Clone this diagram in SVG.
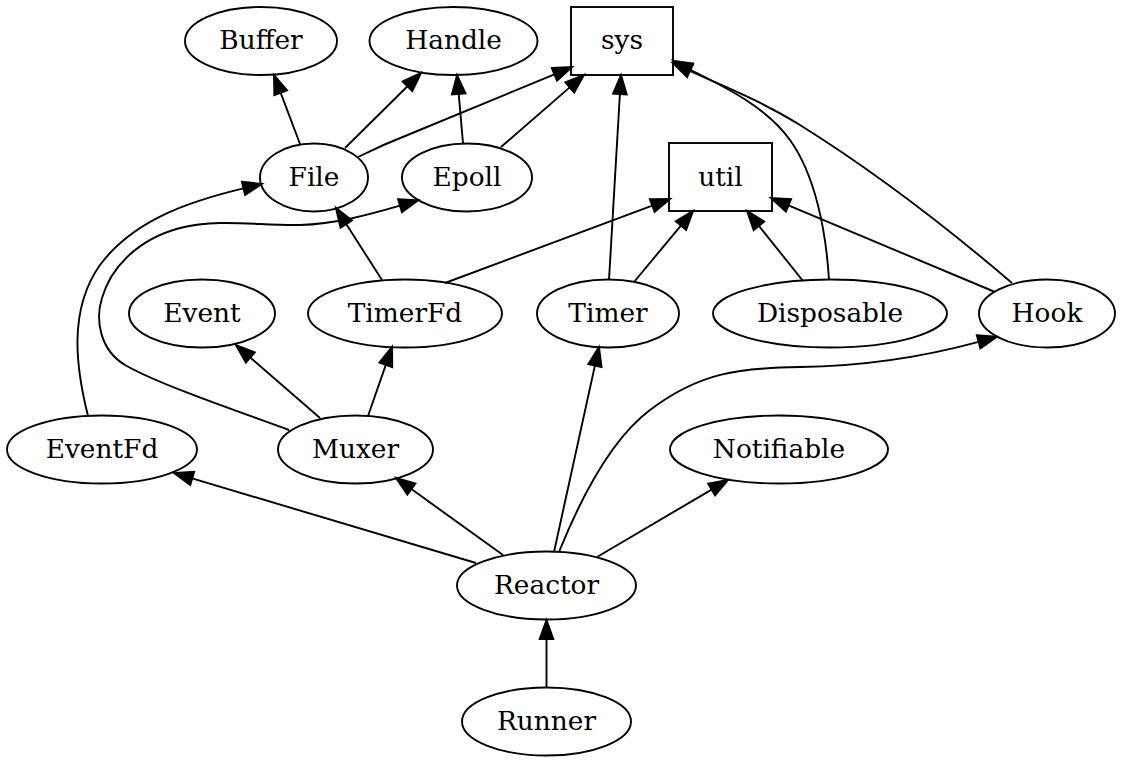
<svg xmlns="http://www.w3.org/2000/svg" width="1123" height="764" viewBox="0 0 1123 764">
<style>
.n ellipse, .n rect { fill: none; stroke: #000; stroke-width: 1.9; }
.n text { font-family: "DejaVu Serif", "Liberation Serif", serif; font-size: 26.4px; text-anchor: middle; fill: #000; }
#edges path { fill: none; stroke: #000; stroke-width: 1.9; marker-end: url(#ah); }
</style>
<defs>
<marker id="ah" markerUnits="userSpaceOnUse" markerWidth="20" markerHeight="14" refX="0" refY="6.8" orient="auto" overflow="visible">
<path d="M0,0 L19,6.8 L0,13.6 Z" fill="#000" stroke="#000" stroke-width="1.9"/>
</marker>
</defs>
<rect width="1123" height="764" fill="#fff"/>
<g id="edges">
<path d="M300,144 L280.7,92.8"/>
<path d="M345,148 L407.5,86.3"/>
<path d="M358,157 C374,149 392,141 410,134 L554.4,74.3"/>
<path d="M463,143 L458.7,93.9"/>
<path d="M501,147 L569.7,87.4"/>
<path d="M609,280 L619.9,94"/>
<path d="M829,280 C826,230 815,175 790,140 C765,105 720,85 690,69.5"/>
<path d="M1012,283 C950,230 880,175 800,125 C760,100 720,85 690,71"/>
<path d="M382,280 L346.2,224"/>
<path d="M445,283 L652.2,205.6"/>
<path d="M634,282 L680.9,225.6"/>
<path d="M803,281 L758.9,225.8"/>
<path d="M995,292 L788.5,205.4"/>
<path d="M88,416 C76,368 68,310 100,265 C135,218 195,200 243.5,188.4"/>
<path d="M289,430 C240,412 160,385 125,365 C100,350 95,320 102,298 C110,270 135,240 180,228 C220,218 260,226 300,225 C335,224 368,215 400,205.7"/>
<path d="M320,418 L250.3,357.5"/>
<path d="M368,416 L385.8,364.9"/>
<path d="M476,563 L192.2,478.4"/>
<path d="M503,555 L411.4,489.1"/>
<path d="M554,552 L594.9,365.6"/>
<path d="M559,552 C580,500 610,440 650,410 C700,372 740,368 800,367 C870,366 930,355 978.6,341.8"/>
<path d="M597,557 L711.6,489.6"/>
<path d="M546.5,688 L546.5,639"/>
</g>
<g id="Buffer" class="n"><ellipse cx="261" cy="41" rx="76" ry="34"/><text x="261" y="49">Buffer</text></g>
<g id="Handle" class="n"><ellipse cx="453.5" cy="41" rx="84" ry="34"/><text x="453.5" y="49">Handle</text></g>
<g id="sys" class="n"><rect x="571" y="7" width="102" height="68"/><text x="622" y="49">sys</text></g>
<g id="File" class="n"><ellipse cx="314" cy="177.5" rx="54" ry="34"/><text x="314" y="185.5">File</text></g>
<g id="Epoll" class="n"><ellipse cx="467" cy="177.5" rx="65" ry="34"/><text x="467" y="185.5">Epoll</text></g>
<g id="util" class="n"><rect x="669" y="143" width="103" height="68"/><text x="720.5" y="185.5">util</text></g>
<g id="Event" class="n"><ellipse cx="202" cy="313.5" rx="73" ry="34"/><text x="202" y="321.5">Event</text></g>
<g id="TimerFd" class="n"><ellipse cx="405" cy="313.5" rx="97" ry="34"/><text x="405" y="321.5">TimerFd</text></g>
<g id="Timer" class="n"><ellipse cx="608" cy="313.5" rx="71" ry="34"/><text x="608" y="321.5">Timer</text></g>
<g id="Disposable" class="n"><ellipse cx="830" cy="313.5" rx="117" ry="34"/><text x="830" y="321.5">Disposable</text></g>
<g id="Hook" class="n"><ellipse cx="1047" cy="313.5" rx="68" ry="34"/><text x="1047" y="321.5">Hook</text></g>
<g id="EventFd" class="n"><ellipse cx="102" cy="449.5" rx="95" ry="34"/><text x="102" y="457.5">EventFd</text></g>
<g id="Muxer" class="n"><ellipse cx="355.5" cy="449.5" rx="77.5" ry="34"/><text x="355.5" y="457.5">Muxer</text></g>
<g id="Notifiable" class="n"><ellipse cx="779" cy="449.5" rx="109" ry="34"/><text x="779" y="457.5">Notifiable</text></g>
<g id="Reactor" class="n"><ellipse cx="546.5" cy="585.5" rx="89.5" ry="34"/><text x="546.5" y="593.5">Reactor</text></g>
<g id="Runner" class="n"><ellipse cx="546.5" cy="721.5" rx="84.5" ry="34"/><text x="546.5" y="729.5">Runner</text></g>
</svg>
